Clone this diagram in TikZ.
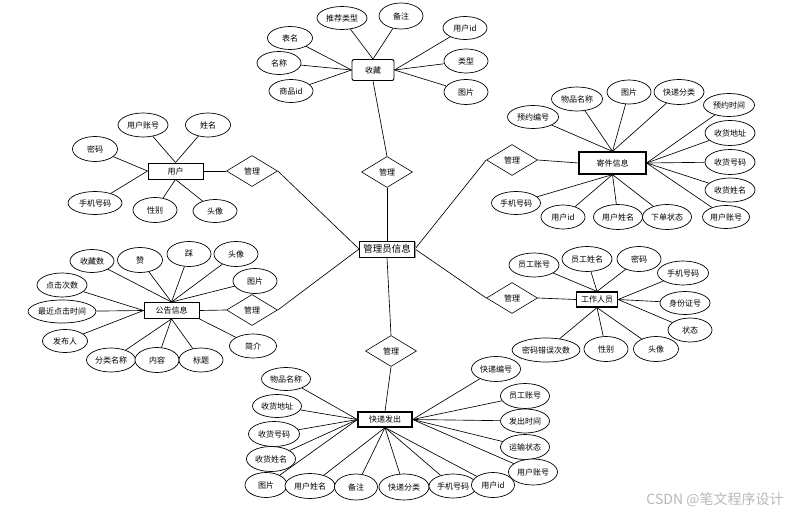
\documentclass[tikz,border=0pt]{standalone}
\usepackage{fontspec}
\newfontfamily\cjk{Noto Sans CJK SC}
\usetikzlibrary{shapes.geometric,shadows}
\pgfdeclarelayer{bg}
\pgfsetlayers{bg,main}
\tikzset{
  attr/.style={ellipse,draw,fill=white,line width=0.7pt,minimum width=46,minimum height=24,inner sep=0pt,font=\cjk\fontsize{8}{9}\selectfont},
  ent/.style={rectangle,draw,fill=white,line width=0.9pt,minimum height=16,inner sep=0pt,font=\cjk\fontsize{8}{9}\selectfont},
  bent/.style={ent,line width=1.2pt},
  rel/.style={diamond,draw,fill=white,line width=0.6pt,minimum width=51,minimum height=31,inner sep=0pt,font=\cjk\fontsize{8}{9}\selectfont},
  edge/.style={line width=0.65pt}
}
\begin{document}
\begin{tikzpicture}[x=1pt,y=-1pt]
\useasboundingbox (0,0) rectangle (801,516);
% center
\node[ent,minimum width=55,minimum height=16,font=\cjk\fontsize{9.5}{10}\selectfont,drop shadow={shadow xshift=1.2pt,shadow yshift=-1.2pt,fill=black!40,opacity=1}] (mgr) at (387,249) {管理员信息};
% relations
\node[rel] (r1) at (387,172) {管理};
\node[rel] (r2) at (252,171) {管理};
\node[rel] (r3) at (512,160) {管理};
\node[rel] (r4) at (252,310) {管理};
\node[rel] (r5) at (512,298) {管理};
\node[rel] (r6) at (391,351) {管理};
% 收藏
\node[ent,rounded corners=2pt,minimum width=42,minimum height=21] (sc) at (373,70) {收藏};
\node[attr,minimum width=50,minimum height=23] (sc1) at (342,18) {推荐类型};
\node[attr,minimum width=44,minimum height=26] (sc2) at (401,16) {备注};
\node[attr,minimum width=45,minimum height=23] (sc3) at (290,38) {表名};
\node[attr,minimum width=44,minimum height=23] (sc4) at (279,63) {名称};
\node[attr,minimum width=44,minimum height=23] (sc5) at (291,91) {商品id};
\node[attr,minimum width=44,minimum height=23] (sc6) at (465,28) {用户id};
\node[attr,minimum width=44,minimum height=24] (sc7) at (466,61) {类型};
\node[attr,minimum width=44,minimum height=25] (sc8) at (466,92) {图片};
% 用户
\node[ent,minimum width=55] (yh) at (175.5,171) {用户};
\node[attr,minimum width=50] (yh1) at (143,125) {用户账号};
\node[attr,minimum width=45] (yh2) at (208,125) {姓名};
\node[attr,minimum width=45,minimum height=25] (yh3) at (95,149) {密码};
\node[attr,minimum width=54,minimum height=23] (yh4) at (95,203) {手机号码};
\node[attr,minimum width=44,minimum height=25] (yh5) at (155,210) {性别};
\node[attr,minimum width=44,minimum height=23] (yh6) at (215,211) {头像};
% 寄件信息
\node[bent,minimum width=67,minimum height=22] (jj) at (612.5,163) {寄件信息};
\node[attr,minimum width=51,minimum height=23] (jj1) at (533,117) {预约编号};
\node[attr,minimum width=51] (jj2) at (577,99) {物品名称};
\node[attr,minimum width=44] (jj3) at (629,92) {图片};
\node[attr,minimum width=50,minimum height=25] (jj4) at (679,92) {快递分类};
\node[attr,minimum width=51,minimum height=23] (jj5) at (729,105) {预约时间};
\node[attr,minimum width=50,minimum height=25] (jj6) at (730,133) {收货地址};
\node[attr,minimum width=50,minimum height=25] (jj7) at (730,162) {收货号码};
\node[attr,minimum width=50] (jj8) at (730,190) {收货姓名};
\node[attr,minimum width=47,minimum height=23] (jj9) at (726,217) {用户账号};
\node[attr,minimum width=49,minimum height=25] (jj10) at (667,217) {下单状态};
\node[attr,minimum width=49,minimum height=25] (jj11) at (618,217) {用户姓名};
\node[attr,minimum width=44] (jj12) at (563,217) {用户id};
\node[attr,minimum width=49,minimum height=23] (jj13) at (516,203) {手机号码};
% 公告信息
\node[ent,minimum width=55] (gg) at (171.5,310.5) {公告信息};
\node[attr,minimum width=44,minimum height=23] (gg1) at (92,261) {收藏数};
\node[attr,minimum width=45,minimum height=25] (gg2) at (140,260) {赞};
\node[attr,minimum width=44,minimum height=25] (gg3) at (189,254) {踩};
\node[attr,minimum width=44,minimum height=25] (gg4) at (236,254) {头像};
\node[attr,minimum width=44,minimum height=25] (gg5) at (255,281) {图片};
\node[attr,minimum width=50] (gg6) at (62,285) {点击次数};
\node[attr,minimum width=66,minimum height=23] (gg7) at (62,311.5) {最近点击时间};
\node[attr,minimum width=45,minimum height=23] (gg8) at (65,341) {发布人};
\node[attr,minimum width=49] (gg9) at (111,360) {分类名称};
\node[attr,minimum width=44,minimum height=25] (gg10) at (157,360) {内容};
\node[attr,minimum width=44] (gg11) at (201,360) {标题};
\node[attr,minimum width=47] (gg12) at (253,346) {简介};
% 工作人员
\node[bent,minimum width=41,minimum height=15] (gz) at (597,299.5) {工作人员};
\node[attr,minimum width=50] (gz1) at (534,265) {员工账号};
\node[attr,minimum width=50,minimum height=25] (gz2) at (587,259) {员工姓名};
\node[attr,minimum width=44,minimum height=25] (gz3) at (639,259) {密码};
\node[attr,minimum width=51] (gz4) at (683,273) {手机号码};
\node[attr,minimum width=50,minimum height=23] (gz5) at (685,303) {身份证号};
\node[attr,minimum width=44] (gz6) at (690,330) {状态};
\node[attr,minimum width=45,minimum height=25] (gz7) at (656,349) {头像};
\node[attr,minimum width=44,minimum height=25] (gz8) at (606,349) {性别};
\node[attr,minimum width=67] (gz9) at (546,350) {密码错误次数};
% 快递发出
\node[bent,minimum width=54,minimum height=15] (kd) at (385,419.5) {快递发出};
\node[attr,minimum width=49,minimum height=23] (kd1) at (286,379) {物品名称};
\node[attr,minimum width=49,minimum height=23] (kd2) at (277,406) {收货地址};
\node[attr,minimum width=51,minimum height=25] (kd3) at (274,434) {收货号码};
\node[attr,minimum width=49,minimum height=25] (kd4) at (271,459) {收货姓名};
\node[attr,minimum width=42,minimum height=25] (kd5) at (266,485) {图片};
\node[attr,minimum width=50,minimum height=25] (kd6) at (310,486) {用户姓名};
\node[attr,minimum width=43,minimum height=26] (kd7) at (356,487) {备注};
\node[attr,minimum width=50,minimum height=26] (kd8) at (404,487) {快递分类};
\node[attr,minimum width=48] (kd9) at (453,486) {手机号码};
\node[attr,minimum width=43,minimum height=25] (kd10) at (493,485) {用户id};
\node[attr,minimum width=49,minimum height=25] (kd11) at (496,369) {快递编号};
\node[attr,minimum width=49,minimum height=25] (kd12) at (525,396) {员工账号};
\node[attr,minimum width=49] (kd13) at (525,421) {发出时间};
\node[attr,minimum width=49,minimum height=25] (kd14) at (525,447) {运输状态};
\node[attr,minimum width=49,minimum height=26] (kd15) at (533,472) {用户账号};
% watermark
\node[font=\cjk\fontsize{14}{15}\selectfont,text=black!28,inner sep=0pt] (wm) at (715,500) {CSDN @笔文程序设计};
\begin{pgfonlayer}{bg}
\draw[edge] (sc.south) -- (r1.north);
\draw[edge] (r1.south) -- (mgr.north);
\draw[edge] (mgr.west) -- (r2.east);
\draw[edge] (mgr.west) -- (r4.east);
\draw[edge] (mgr.east) -- (r3.west);
\draw[edge] (mgr.east) -- (r5.west);
\draw[edge] (mgr.south) -- (r6.north);
\draw[edge] (r6.south) -- (kd.north);
\draw[edge] (yh.east) -- (r2.west);
\draw[edge] (r3.east) -- (jj.west);
\draw[edge] (gg.east) -- (r4.west);
\draw[edge] (r5.east) -- (gz.west);
\foreach \a in {sc1,sc2} \draw[edge] (\a) -- (sc.north);
\foreach \a in {sc3,sc4,sc5} \draw[edge] (\a) -- (sc.west);
\foreach \a in {sc6,sc7,sc8} \draw[edge] (\a) -- (sc.east);
\foreach \a in {yh1,yh2} \draw[edge] (\a) -- (yh.north);
\foreach \a in {yh3,yh4} \draw[edge] (\a) -- (yh.west);
\foreach \a in {yh5,yh6} \draw[edge] (\a) -- (yh.south);
\foreach \a in {jj1,jj2,jj3,jj4} \draw[edge] (\a) -- (jj.north);
\foreach \a in {jj5,jj6,jj7,jj8,jj9} \draw[edge] (\a) -- (jj.east);
\foreach \a in {jj10,jj11,jj12,jj13} \draw[edge] (\a) -- (jj.south);
\foreach \a in {gg1,gg2,gg3,gg4,gg5} \draw[edge] (\a) -- (gg.north);
\foreach \a in {gg6,gg7,gg8} \draw[edge] (\a) -- (gg.west);
\foreach \a in {gg9,gg10,gg11} \draw[edge] (\a) -- (gg.south);
\draw[edge] (gg12) -- (gg.south east);
\foreach \a in {gz1,gz2,gz3} \draw[edge] (\a) -- (gz.north);
\foreach \a in {gz4,gz5,gz6} \draw[edge] (\a) -- (gz.east);
\foreach \a in {gz7,gz8,gz9} \draw[edge] (\a) -- (gz.south);
\foreach \a in {kd1,kd2,kd3,kd4,kd5} \draw[edge] (\a) -- (kd.west);
\foreach \a in {kd6,kd7,kd8,kd9,kd10} \draw[edge] (\a) -- (kd.south);
\foreach \a in {kd11,kd12,kd13,kd14,kd15} \draw[edge] (\a) -- (kd.east);
\end{pgfonlayer}
\end{tikzpicture}
\end{document}
